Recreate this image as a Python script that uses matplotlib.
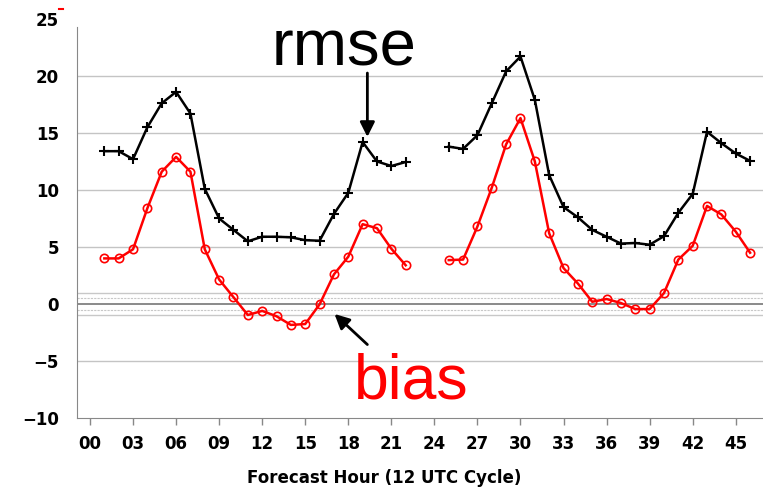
import matplotlib
matplotlib.use("Agg")
import matplotlib.pyplot as plt
from matplotlib.lines import Line2D
import numpy as np

# forecast hours (gap at 23-24)
hours_a = list(range(1, 23))
hours_b = list(range(25, 47))

rmse_a = [13.4, 13.4, 12.7, 15.5, 17.6, 18.6, 16.7, 10.1, 7.5, 6.5, 5.5,
          5.9, 5.9, 5.85, 5.6, 5.55, 7.9, 9.75, 14.2, 12.5, 12.1, 12.45]
rmse_b = [13.8, 13.6, 14.8, 17.6, 20.4, 21.7, 17.9, 11.3, 8.5, 7.6, 6.5,
          5.9, 5.3, 5.35, 5.2, 5.95, 8.0, 9.65, 15.1, 14.1, 13.2, 12.55]

bias_a = [4.0, 4.0, 4.8, 8.4, 11.6, 12.9, 11.6, 4.8, 2.15, 0.6, -0.96,
          -0.6, -1.07, -1.83, -1.75, -0.03, 2.6, 4.15, 7.0, 6.65, 4.85, 3.4]
bias_b = [3.85, 3.9, 6.8, 10.2, 14.0, 16.3, 12.5, 6.2, 3.15, 1.8, 0.2,
          0.44, 0.09, -0.44, -0.44, 0.96, 3.9, 5.1, 8.6, 7.85, 6.35, 4.5]

xticks = list(range(0, 46, 3))
xticklabels = ["%02d" % h for h in xticks]
yticks = [-10, -5, 0, 5, 10, 15, 20, 25]
yticklabels = ["\u221210", "\u22125", "0", "5", "10", "15", "20", "25"]

fig = plt.figure(figsize=(7.63, 4.96), dpi=100)
ax = fig.add_axes([0.101, 0.157, 0.899, 0.805])

# horizontal guide lines
for y in [-5, 5, 10, 15, 20]:
    ax.axhline(y, color="#c4c4c4", lw=1.0, zorder=0)
for y in [-1, 1]:
    ax.axhline(y, color="#c8c8c8", lw=1.0, zorder=0)
for y in [-0.5, 0.5]:
    ax.axhline(y, color="#c8c8c8", lw=0.8, ls=(0, (2, 1)), zorder=0)
ax.axhline(0, color="#8a8a8a", lw=1.4, zorder=0)

for hrs, vals in [(hours_a, rmse_a), (hours_b, rmse_b)]:
    ax.plot(hrs, vals, color="black", lw=1.8, marker="+", ms=7.5, mew=1.5, zorder=3)
for hrs, vals in [(hours_a, bias_a), (hours_b, bias_b)]:
    ax.plot(hrs, vals, color="red", lw=1.8, marker="o", ms=6, mfc="none",
            mec="red", mew=1.2, zorder=2)

ax.set_xlim(-0.9, 46.9)
ax.set_ylim(-10, 25)
ax.set_xticks(xticks)
ax.set_xticklabels(xticklabels, fontfamily="DejaVu Sans", fontweight="bold", fontsize=12)
ax.set_yticks(yticks)
ax.set_yticklabels(yticklabels, fontfamily="DejaVu Sans", fontweight="bold", fontsize=12)
ax.tick_params(axis="x", length=5, width=1, color="#888888", pad=7)
ax.tick_params(axis="y", length=0, pad=13)

for side in ["top", "right"]:
    ax.spines[side].set_visible(False)
ax.spines["left"].set_bounds(-10, 24.3)
ax.spines["left"].set_color("#888888")
ax.spines["bottom"].set_color("#888888")

ax.text(17.73, 20.94, "rmse", fontfamily="Liberation Sans", fontsize=47,
        ha="center", va="baseline", color="black")
ax.text(22.4, -8.29, "bias", fontfamily="Liberation Sans", fontsize=45,
        ha="center", va="baseline", color="red")

ax.annotate("", xy=(19.33, 14.65), xytext=(19.33, 20.25),
            arrowprops=dict(arrowstyle="-|>", color="black", lw=2,
                            mutation_scale=22, shrinkA=0, shrinkB=0))
ax.annotate("", xy=(17.04, -0.87), xytext=(19.33, -3.55),
            arrowprops=dict(arrowstyle="-|>", color="black", lw=2,
                            mutation_scale=22, shrinkA=0, shrinkB=0))

fig.text(0.503, 0.018, "Forecast Hour (12 UTC Cycle)", fontfamily="DejaVu Sans",
         fontweight="bold", fontsize=12, ha="center", va="bottom")

# little red mark next to the top label
fig.add_artist(Line2D([0.077, 0.083], [0.982, 0.982], color="red", lw=1.5))

fig.savefig("out.png", dpi=100)
